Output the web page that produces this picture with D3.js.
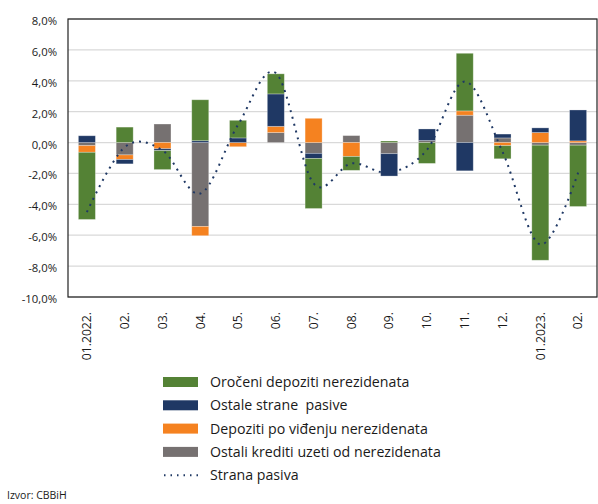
<!DOCTYPE html>
<html><head><meta charset="utf-8">
<script src="https://cdn.jsdelivr.net/npm/d3@7"></script>
<style>body{margin:0;background:#fff}svg{display:block}text{font-family:"Open Sans",sans-serif;fill:#1a1a1a;white-space:pre}</style>
</head><body>
<svg id="c" width="598" height="504"></svg>
<script>
const categories = ["01.2022.","02.","03.","04.","05.","06.","07.","08.","09.","10.","11.","12.","01.2023.","02."];
const orocniDepoziti   = [-4.35, 1.0, -1.23, 2.65, 1.14, 1.3, -3.24, -0.9, 0.1, -1.35, 3.73, -0.85, -7.45, -3.97];
const ostaleStrane     = [0.44, -0.28, -0.12, 0.12, 0.3, 2.1, -0.33, 0, -1.45, 0.75, -1.83, 0.25, 0.3, 2.0];
const depozitiVidjenju = [-0.43, -0.3, -0.4, -0.6, -0.27, 0.4, 1.57, -0.9, 0, 0, 0.28, -0.2, 0.65, 0.11];
const ostaliKrediti    = [-0.2, -0.8, 1.2, -5.43, 0, 0.65, -0.7, 0.45, -0.72, 0.13, 1.77, 0.3, -0.17, -0.17];
const stranaPasiva     = [-4.5, -0.3, -0.5, -3.3, 1.15, 4.5, -2.65, -1.35, -1.95, -0.47, 3.95, -0.6, -6.6, -1.95];
const yTicks = [8, 6, 4, 2, 0, -2, -4, -6, -8, -10];
const seriesNames = ["Oročeni depoziti nerezidenata","Ostale strane  pasive","Depoziti po viđenju nerezidenata","Ostali krediti uzeti od nerezidenata","Strana pasiva"];
const colors = {ok:"#548235", os:"#1f3864", dv:"#f58220", kr:"#767171"};

const svg = d3.select("#c");
const L = 68, R = 597, T = 19, B = 297;
const idx = d3.range(categories.length);
const x = d3.scaleBand().domain(idx).range([L, R]).paddingInner(0.55).paddingOuter(0.275);
const y = d3.scaleLinear().domain([-10, 8]).range([B, T]);

// gridlines
svg.append("g").selectAll("line").data(yTicks).join("line")
  .attr("x1", L).attr("x2", R).attr("y1", d => y(d)).attr("y2", d => y(d))
  .attr("stroke", "#d9d9d9").attr("stroke-width", 1.3);

// y labels
const fmt = d => d.toFixed(1).replace(".", ",") + "%";
svg.append("g").selectAll("text").data(yTicks).join("text")
  .attr("x", 57).attr("y", d => y(d) + 2).attr("dy", "0.35em").attr("text-anchor", "end")
  .attr("font-size", 11.3).text(fmt);

// stacked bars
const table = idx.map(i => ({i: i, kr: ostaliKrediti[i], dv: depozitiVidjenju[i], os: ostaleStrane[i], ok: orocniDepoziti[i]}));
const keys = ["kr", "dv", "os", "ok"];
const stack = d3.stack().keys(keys).offset(d3.stackOffsetDiverging)(table);
svg.append("g").selectAll("g").data(stack).join("g").attr("fill", d => colors[d.key])
  .selectAll("rect").data(d => d).join("rect")
  .attr("x", d => x(d.data.i)).attr("width", x.bandwidth())
  .attr("y", d => y(Math.max(d[0], d[1]))).attr("height", d => Math.abs(y(d[0]) - y(d[1])))
  .attr("stroke", "rgba(255,255,255,0.35)").attr("stroke-width", 0.8);

// line
const line = d3.line().x((d, i) => x(i) + x.bandwidth() / 2).y(d => y(d)).curve(d3.curveCardinal.tension(0));
svg.append("path").datum(stranaPasiva).attr("d", line).attr("fill", "none")
  .attr("stroke", "#1f3864").attr("stroke-width", 2).attr("stroke-dasharray", "2 5");

// frame
svg.append("rect").attr("x", L).attr("y", T).attr("width", R - L).attr("height", B - T)
  .attr("fill", "none").attr("stroke", "#222").attr("stroke-width", 1.2);

// x labels
svg.append("g").selectAll("text").data(idx).join("text")
  .attr("transform", i => `translate(${x(i) + x.bandwidth() / 2},312) rotate(-90)`)
  .attr("text-anchor", "end").attr("dy", "0.35em").attr("font-size", 12.2).text(i => categories[i]);

// legend
const lg = svg.append("g");
const sw = [colors.ok, colors.os, colors.dv, colors.kr];
seriesNames.forEach((n, i) => {
  const cy = 382 + i * 23.3;
  if (i < 4) lg.append("rect").attr("x", 163).attr("y", cy - 5).attr("width", 35).attr("height", 10).attr("fill", sw[i]);
  else lg.append("line").attr("x1", 164).attr("x2", 198).attr("y1", cy).attr("y2", cy)
    .attr("stroke", "#1f3864").attr("stroke-width", 2).attr("stroke-dasharray", "1.5 5");
  lg.append("text").attr("x", 210).attr("y", cy).attr("dy", "0.35em").attr("font-size", 14.2).text(n);
});

svg.append("text").attr("x", 7).attr("y", 495).attr("dy", "0.35em").attr("font-size", 10.5).text("Izvor: CBBiH");
</script>
</body></html>
